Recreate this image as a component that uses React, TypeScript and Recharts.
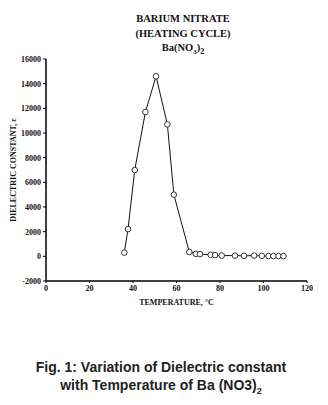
import { LineChart, Line, XAxis, YAxis, Label } from 'recharts';

const temperatures = [36, 37.7, 40.8, 45.7, 50.6, 55.8, 58.8, 65.9, 68.9, 70.8, 75.7, 77.7, 80.8, 86.9, 91, 95.7, 99.2, 102.3, 104.6, 106.9, 109.2];
const dielectric = [300, 2200, 7000, 11700, 14600, 10700, 5000, 350, 200, 180, 120, 100, 60, 60, 40, 60, 40, 20, 20, 20, 20];
const xTicks = [0, 20, 40, 60, 80, 100, 120];
const yTicks = [-2000, 0, 2000, 4000, 6000, 8000, 10000, 12000, 14000, 16000];

const data = temperatures.map((t, i) => ({ t, e: dielectric[i] }));

const serif = '"Liberation Serif", "DejaVu Serif", serif';
const tickStyle = { fontFamily: serif, fontSize: 8, fontWeight: 700, fill: '#111' };

export default function App() {
  return (
    <div style={{ position: 'absolute', left: 0, top: 0, width: 328, height: 405, background: '#fff' }}>
      <div style={{ position: 'absolute', left: 0, top: 12, width: 366, textAlign: 'center', fontFamily: serif, fontWeight: 700, fontSize: 10.5, lineHeight: '14.5px', color: '#111' }}>
        <div>BARIUM NITRATE</div>
        <div>(HEATING CYCLE)</div>
        <div>Ba(NO<sub style={{ fontSize: 7 }}>3</sub>)<sub style={{ fontSize: 8 }}>2</sub></div>
      </div>
      <LineChart width={328} height={405} data={data} margin={{ top: 59, right: 21, bottom: 92, left: 0 }}>
        <XAxis
          dataKey="t"
          type="number"
          domain={[0, 120]}
          ticks={xTicks}
          interval={0}
          axisLine={{ stroke: '#000', strokeWidth: 1.5 }}
          tickLine={{ stroke: '#000' }}
          tickSize={2}
          tick={tickStyle}
          height={32}
        >
          <Label value="TEMPERATURE, °C" position="insideBottom" offset={8} style={{ ...tickStyle, fontSize: 8 }} />
        </XAxis>
        <YAxis
          type="number"
          domain={[-2000, 16000]}
          ticks={yTicks}
          interval={0}
          axisLine={{ stroke: '#000', strokeWidth: 1.5 }}
          tickLine={{ stroke: '#000' }}
          tickSize={3}
          tick={tickStyle}
          width={46}
        >
          <Label value="DIELECTRIC CONSTANT, ε" angle={-90} position="insideLeft" offset={13} style={{ ...tickStyle, fontSize: 8, textAnchor: 'middle' }} />
        </YAxis>
        <Line
          dataKey="e"
          type="linear"
          stroke="#111"
          strokeWidth={1}
          dot={{ r: 2.8, fill: '#fff', stroke: '#333', strokeWidth: 1 }}
          isAnimationActive={false}
        />
      </LineChart>
      <div style={{ position: 'absolute', left: 0, top: 358, width: 322, textAlign: 'center', fontFamily: '"Liberation Sans", Arial, sans-serif', fontWeight: 700, fontSize: 14, lineHeight: '18px', color: '#222' }}>
        <div>Fig. 1: Variation of Dielectric constant</div>
        <div>with Temperature of Ba (NO3)<sub style={{ fontSize: 9 }}>2</sub></div>
      </div>
    </div>
  );
}
